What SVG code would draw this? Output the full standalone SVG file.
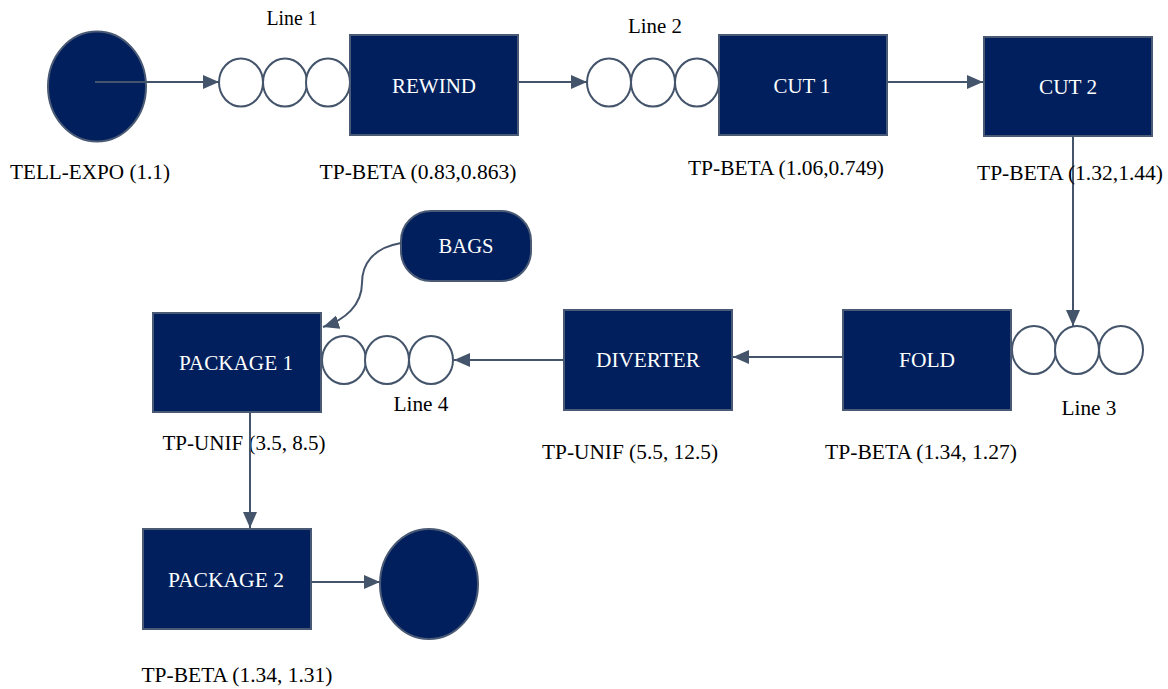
<svg xmlns="http://www.w3.org/2000/svg" width="1168" height="689" viewBox="0 0 1168 689">
<style>
.n{fill:#001F5C;stroke:#4A5A75;stroke-width:2}
.q{fill:#fff;stroke:#44546A;stroke-width:2}
.c{fill:none;stroke:#44546A;stroke-width:2}
text{font-family:'Liberation Serif','Times New Roman',serif;font-size:20px;text-anchor:middle}
.w{fill:#fff}
.t{fill:#000}
</style>
<defs>
<marker id="m" markerWidth="16" markerHeight="14" refX="16" refY="7" orient="auto" markerUnits="userSpaceOnUse">
<path d="M0,0 L16,7 L0,14 z" fill="#44546A"/>
</marker>
</defs>
<g id="start"><ellipse class="n" cx="97" cy="86.5" rx="49" ry="55"/><text class="t" x="90" y="179" textLength="160" lengthAdjust="spacingAndGlyphs">TELL-EXPO (1.1)</text></g>
<g id="line1"><ellipse class="q" cx="241" cy="82.5" rx="22" ry="24"/><ellipse class="q" cx="285" cy="82.5" rx="22" ry="24"/><ellipse class="q" cx="328" cy="82.5" rx="22" ry="24"/><text class="t" x="292" y="25" textLength="51" lengthAdjust="spacingAndGlyphs">Line 1</text></g>
<g id="rewind"><rect class="n" x="350" y="35" width="168" height="100"/><text class="w" x="434" y="93" textLength="84" lengthAdjust="spacingAndGlyphs">REWIND</text><text class="t" x="418" y="179" textLength="197" lengthAdjust="spacingAndGlyphs">TP-BETA (0.83,0.863)</text></g>
<g id="line2"><ellipse class="q" cx="609" cy="82.5" rx="22" ry="24"/><ellipse class="q" cx="653" cy="82.5" rx="22" ry="24"/><ellipse class="q" cx="697" cy="82.5" rx="22" ry="24"/><text class="t" x="655" y="33" textLength="54" lengthAdjust="spacingAndGlyphs">Line 2</text></g>
<g id="cut1"><rect class="n" x="719" y="35" width="168" height="100"/><text class="w" x="802" y="93" textLength="57" lengthAdjust="spacingAndGlyphs">CUT 1</text><text class="t" x="786" y="175" textLength="196" lengthAdjust="spacingAndGlyphs">TP-BETA (1.06,0.749)</text></g>
<g id="cut2"><rect class="n" x="984" y="37" width="168" height="99"/><text class="w" x="1068" y="94" textLength="58" lengthAdjust="spacingAndGlyphs">CUT 2</text></g>
<g id="line3"><ellipse class="q" cx="1034" cy="350" rx="22" ry="24"/><ellipse class="q" cx="1077" cy="350" rx="22" ry="24"/><ellipse class="q" cx="1121" cy="350" rx="22" ry="24"/><text class="t" x="1089" y="415" textLength="55" lengthAdjust="spacingAndGlyphs">Line 3</text></g>
<g id="fold"><rect class="n" x="843" y="310" width="168" height="100"/><text class="w" x="927" y="367" textLength="56" lengthAdjust="spacingAndGlyphs">FOLD</text><text class="t" x="921" y="459" textLength="192" lengthAdjust="spacingAndGlyphs">TP-BETA (1.34, 1.27)</text></g>
<g id="diverter"><rect class="n" x="564" y="310" width="168" height="100"/><text class="w" x="648" y="367" textLength="104" lengthAdjust="spacingAndGlyphs">DIVERTER</text><text class="t" x="630" y="459" textLength="176" lengthAdjust="spacingAndGlyphs">TP-UNIF (5.5, 12.5)</text></g>
<g id="line4"><ellipse class="q" cx="344" cy="360" rx="22" ry="24"/><ellipse class="q" cx="387" cy="360" rx="22" ry="24"/><ellipse class="q" cx="431" cy="360" rx="22" ry="24"/><text class="t" x="421" y="411" textLength="55" lengthAdjust="spacingAndGlyphs">Line 4</text></g>
<g id="bags"><rect class="n" x="401" y="211" width="130" height="70" rx="30" ry="30"/><text class="w" x="466" y="253" textLength="55" lengthAdjust="spacingAndGlyphs">BAGS</text></g>
<g id="package1"><rect class="n" x="153" y="313" width="168" height="99"/><text class="w" x="236" y="370" textLength="114" lengthAdjust="spacingAndGlyphs">PACKAGE 1</text><text class="t" x="244" y="450" textLength="163" lengthAdjust="spacingAndGlyphs">TP-UNIF (3.5, 8.5)</text></g>
<g id="package2"><rect class="n" x="143" y="529" width="168" height="100"/><text class="w" x="226" y="587" textLength="116" lengthAdjust="spacingAndGlyphs">PACKAGE 2</text><text class="t" x="237" y="682" textLength="191" lengthAdjust="spacingAndGlyphs">TP-BETA (1.34, 1.31)</text></g>
<g id="end"><ellipse class="n" cx="429" cy="584" rx="49" ry="55"/></g>
<g id="connectors">
<path class="c" marker-end="url(#m)" d="M95,82 H219"/>
<path class="c" marker-end="url(#m)" d="M518,82 H587"/>
<path class="c" marker-end="url(#m)" d="M887,82 H983"/>
<path class="c" marker-end="url(#m)" d="M1073,136 V326"/>
<path class="c" marker-end="url(#m)" d="M843,357 H733"/>
<path class="c" marker-end="url(#m)" d="M564,360 H454"/>
<path class="c" marker-end="url(#m)" d="M401,243 C372,248 362,265 362,283 C362,305 345,320 323,327"/>
<path class="c" marker-end="url(#m)" d="M250,412 V528"/>
<path class="c" marker-end="url(#m)" d="M311,582 H380"/>
</g>
<text class="t" x="1070" y="180" textLength="186" lengthAdjust="spacingAndGlyphs">TP-BETA (1.32,1.44)</text>
</svg>
